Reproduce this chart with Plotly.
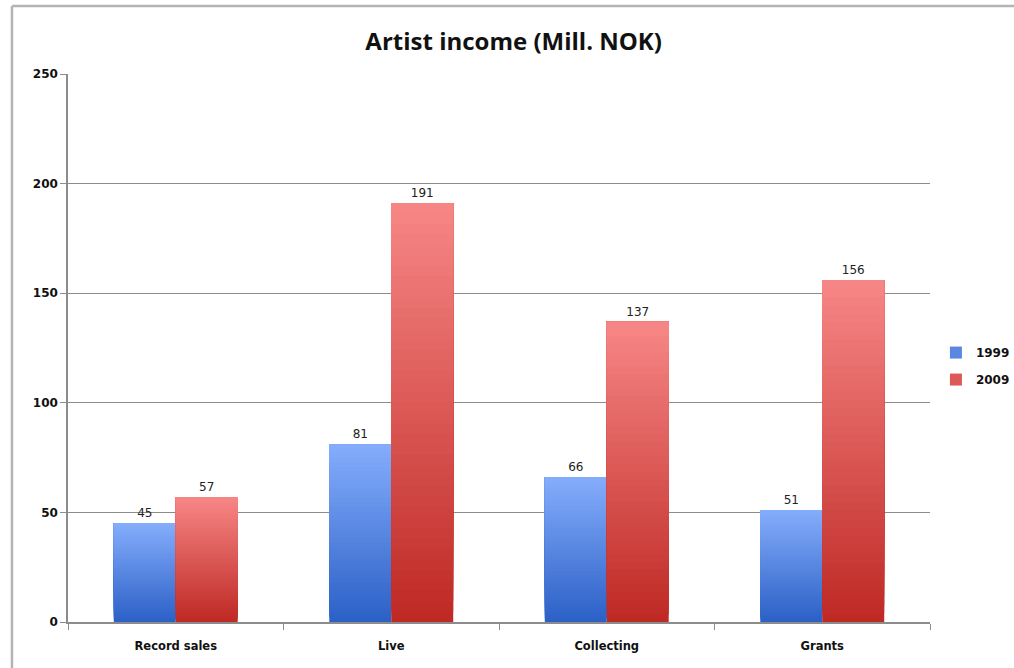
import plotly.graph_objects as go

# Artist income by source, million NOK
categories = ["Record sales", "Live", "Collecting", "Grants"]
income_1999 = [45, 81, 66, 51]
income_2009 = [57, 191, 137, 156]
y_ticks = [0, 50, 100, 150, 200, 250]

# top / bottom colours of the vertical gradient in each series
series = [
    ("1999", income_1999, (0x84, 0xAC, 0xFB), (0x2C, 0x61, 0xC7)),
    ("2009", income_2009, (0xF6, 0x86, 0x85), (0xBF, 0x2A, 0x25)),
]

N_STEPS = 40


def mix(c_top, c_bot, t):
    r, g, b = (round(c_bot[i] + (c_top[i] - c_bot[i]) * t) for i in range(3))
    return f"rgb({r},{g},{b})"


fig = go.Figure()

for name, values, c_top, c_bot in series:
    # each bar is painted as overlapping layers, each starting a little higher
    # and running to the bar's top, so the colour shades from bottom to top
    for k in range(N_STEPS):
        t = k / (N_STEPS - 1)
        fig.add_trace(go.Bar(
            x=categories,
            y=[v * (N_STEPS - k) / N_STEPS for v in values],
            base=[v * k / N_STEPS for v in values],
            offsetgroup=name,
            legendgroup=name,
            name=name,
            showlegend=(k == N_STEPS // 2),
            marker=dict(color=mix(c_top, c_bot, t), line=dict(width=0)),
            hoverinfo="skip",
        ))
    # value labels above each bar
    fig.add_trace(go.Bar(
        x=categories,
        y=values,
        offsetgroup=name,
        legendgroup=name,
        name=name,
        showlegend=False,
        marker=dict(color="rgba(0,0,0,0)", line=dict(width=0)),
        text=[str(v) for v in values],
        textposition="outside",
        textfont=dict(family="DejaVu Sans", size=12, color="#222222"),
        cliponaxis=False,
        hovertemplate="%{x}: %{y}<extra>" + name + "</extra>",
    ))

fig.update_layout(
    width=1014,
    height=668,
    paper_bgcolor="white",
    plot_bgcolor="white",
    margin=dict(l=68, r=84, t=74, b=46, autoexpand=False),
    barmode="group",
    bargap=0.425,
    bargroupgap=0,
    title=dict(
        text="<b>Artist income (Mill. NOK)</b>",
        x=0.517, xref="paper", xanchor="center",
        y=0.937, yanchor="middle",
        font=dict(family="Open Sans", size=24, color="#111111"),
    ),
    showlegend=True,
    legend=dict(
        xref="container", yref="container",
        x=0.923, y=0.452, xanchor="left", yanchor="middle",
        font=dict(family="DejaVu Sans", size=12, color="#111111", weight="bold"),
        itemwidth=30,
        tracegroupgap=8,
        bgcolor="rgba(0,0,0,0)",
    ),
)

fig.update_xaxes(
    type="category",
    categoryorder="array",
    categoryarray=categories,
    showline=True, linecolor="#8c8c8c", linewidth=1.5,
    ticks="outside", tickson="boundaries", ticklen=6, tickcolor="#8c8c8c",
    ticklabelstandoff=12,
    showgrid=False,
    tickfont=dict(family="DejaVu Sans", size=11.5, color="#111111", weight="bold"),
    fixedrange=True,
)

fig.update_yaxes(
    range=[0, 250],
    tickvals=y_ticks,
    showline=True, linecolor="#8c8c8c", linewidth=1.5,
    ticks="outside", ticklen=6, tickcolor="#8c8c8c",
    showgrid=True, gridcolor="#8c8c8c", gridwidth=1,
    zeroline=False,
    tickfont=dict(family="DejaVu Sans", size=12, color="#111111", weight="bold"),
    fixedrange=True,
)

# thin grey frame along the left and top of the chart area
frame = dict(color="#b4b4b4", width=2.5)
fig.add_shape(type="line", xref="paper", yref="paper",
              x0=-0.065, x1=-0.065, y0=-0.1, y1=1.124, line=frame)
fig.add_shape(type="line", xref="paper", yref="paper",
              x0=-0.065, x1=1.2, y0=1.124, y1=1.124, line=frame)

fig.write_html("out.html")
